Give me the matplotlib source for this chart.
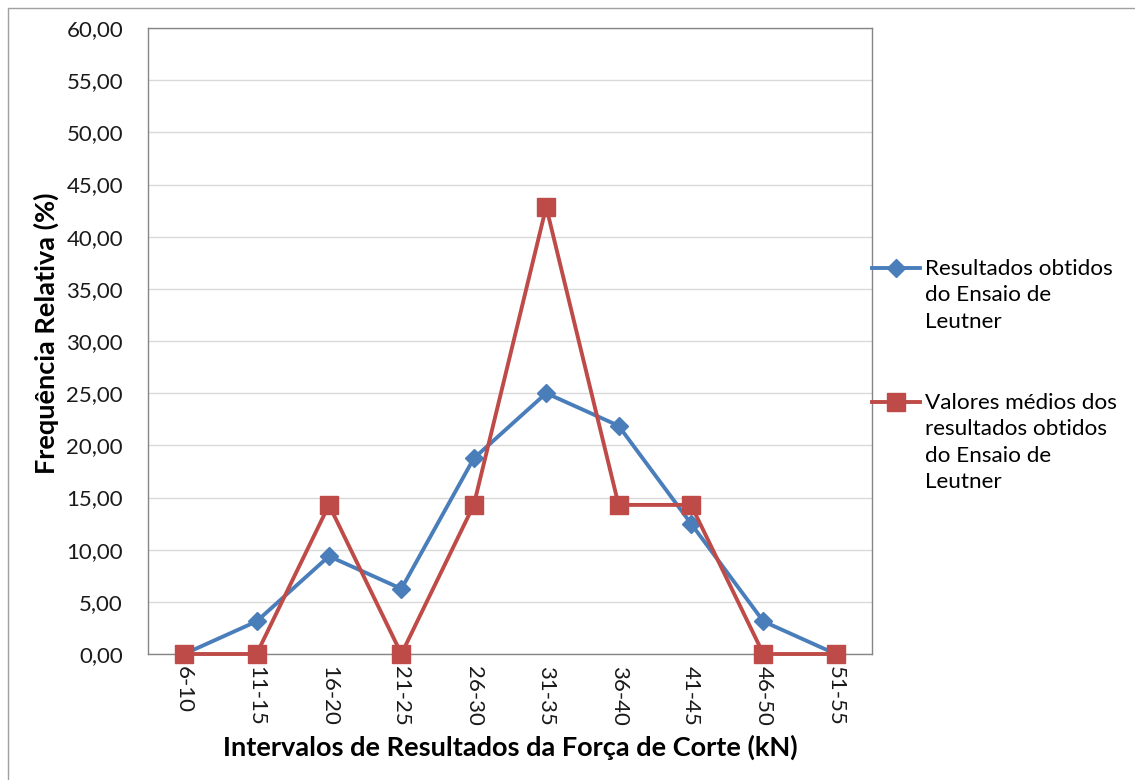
import matplotlib
matplotlib.use("Agg")
import matplotlib.pyplot as plt
from matplotlib.patches import Rectangle
from matplotlib.legend_handler import HandlerLine2D

# Interval classes of cutting force (kN)
categories = ["6-10", "11-15", "16-20", "21-25", "26-30",
              "31-35", "36-40", "41-45", "46-50", "51-55"]

# Relative frequency (%) of the Leutner test results
leutner_results = [0.00, 3.125, 9.375, 6.25, 18.75, 25.00, 21.875, 12.50, 3.125, 0.00]
# Relative frequency (%) of the mean values of the Leutner test results
leutner_means = [0.00, 0.00, 14.29, 0.00, 14.29, 42.86, 14.29, 14.29, 0.00, 0.00]

y_ticks = list(range(0, 61, 5))

label_results = "Resultados obtidos\ndo Ensaio de\nLeutner"
label_means = "Valores médios dos\nresultados obtidos\ndo Ensaio de\nLeutner"

BLUE = "#4A7EBB"
RED = "#BE4B48"
GRID = "#D9D9D9"
AXIS = "#868686"

LEG_FS = 16.2
LEG_LINESPACING = 1.4


class FirstLineHandler(HandlerLine2D):
    """Line handler that lifts the key up to the first line of a wrapped label."""

    def __init__(self, n_lines, line_height, **kw):
        super().__init__(**kw)
        self.shift = (n_lines - 1) / 2 * line_height

    def create_artists(self, legend, orig_handle, xdescent, ydescent,
                       width, height, fontsize, trans):
        arts = super().create_artists(legend, orig_handle, xdescent, ydescent,
                                      width, height, fontsize, trans)
        for a in arts:
            a.set_ydata([y + self.shift for y in a.get_ydata()])
        return arts


plt.rcParams["font.family"] = ["Lato", "DejaVu Sans"]

W, H = 1135, 780
fig = plt.figure(figsize=(W / 100, H / 100), dpi=100)
fig.patch.set_facecolor("white")

# outer chart border
fig.add_artist(Rectangle((8 / W, -0.1), 1.2, (H - 8) / H + 0.1,
                         transform=fig.transFigure, fill=False,
                         edgecolor="#A0A0A0", linewidth=1.0))

ax = fig.add_axes([148 / W, (H - 654) / H, 724 / W, 626 / H])
x = list(range(len(categories)))

line_res, = ax.plot(x, leutner_results, color=BLUE, linewidth=2.8, marker="D",
                    markersize=9.5, markerfacecolor=BLUE, markeredgecolor=BLUE,
                    label=label_results, zorder=3)
line_mean, = ax.plot(x, leutner_means, color=RED, linewidth=2.8, marker="s",
                     markersize=12.5, markerfacecolor=RED, markeredgecolor=RED,
                     label=label_means, zorder=4, clip_on=False)

ax.set_xlim(-0.5, len(categories) - 0.5)
ax.set_ylim(0, 60)
ax.set_yticks(y_ticks)
ax.set_yticklabels([f"{v:.2f}".replace(".", ",") for v in y_ticks])
ax.set_xticks(x)
ax.set_xticklabels(categories, rotation=-90)
ax.tick_params(axis="both", length=0, labelsize=16, colors="#1a1a1a")
ax.tick_params(axis="y", pad=18)
ax.tick_params(axis="x", pad=9)

ax.grid(axis="y", color=GRID, linewidth=1.0)
ax.set_axisbelow(True)
for s in ax.spines.values():
    s.set_color(AXIS)
    s.set_linewidth(1.0)

ax.set_ylabel("Frequência Relativa (%)", fontsize=19.5, fontweight="bold", labelpad=5)
ax.yaxis.label.set_y(0.512)
ax.set_xlabel("Intervalos de Resultados da Força de Corte (kN)", fontsize=19.5,
              fontweight="bold", labelpad=6)

line_pt = LEG_FS * LEG_LINESPACING * 0.86
leg = fig.legend(handles=[line_res, line_mean],
                 labels=[label_results, label_means],
                 handler_map={
                     line_res: FirstLineHandler(label_results.count("\n") + 1, line_pt),
                     line_mean: FirstLineHandler(label_means.count("\n") + 1, line_pt),
                 },
                 loc="upper left", bbox_to_anchor=(872 / W, 1 - 259 / H),
                 frameon=False, fontsize=LEG_FS, handlelength=2.15,
                 handletextpad=0.2, labelspacing=2.72, borderaxespad=0,
                 borderpad=0)
for t in leg.get_texts():
    t.set_linespacing(LEG_LINESPACING)

fig.savefig("out.png", dpi=100, facecolor="white")
